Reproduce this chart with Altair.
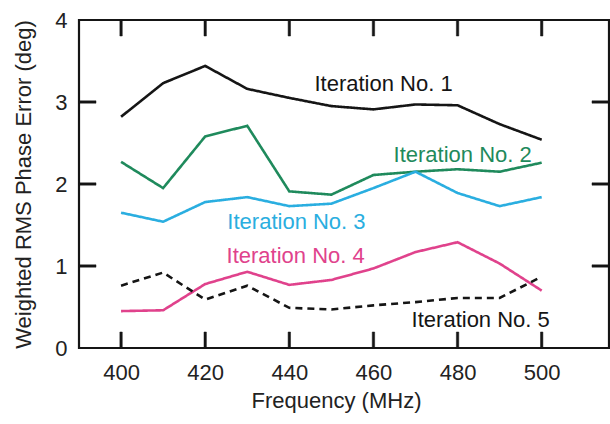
import altair as alt
import pandas as pd

freq = [400, 410, 420, 430, 440, 450, 460, 470, 480, 490, 500]
iter1 = [2.82, 3.23, 3.44, 3.16, 3.05, 2.95, 2.91, 2.97, 2.96, 2.73, 2.54]
iter2 = [2.27, 1.95, 2.58, 2.71, 1.91, 1.87, 2.11, 2.15, 2.18, 2.15, 2.26]
iter3 = [1.65, 1.54, 1.78, 1.84, 1.73, 1.76, 1.95, 2.15, 1.89, 1.73, 1.84]
iter4 = [0.45, 0.46, 0.78, 0.93, 0.77, 0.83, 0.97, 1.17, 1.29, 1.03, 0.70]
iter5 = [0.76, 0.92, 0.59, 0.76, 0.49, 0.47, 0.52, 0.56, 0.61, 0.61, 0.87]

series_names = ["Iteration No. 1", "Iteration No. 2", "Iteration No. 3",
                "Iteration No. 4", "Iteration No. 5"]
series_colors = ["#151515", "#1f8a5c", "#2aaee0", "#e0428c", "#151515"]

label_x = [462.4, 481.2, 441.7, 441.5, 485.5]
label_y = [3.22, 2.35, 1.54, 1.12, 0.34]

x_ticks = [400, 420, 440, 460, 480, 500]
y_ticks = [0, 1, 2, 3, 4]
x_domain = [390, 516]
y_domain = [0, 4]

FONT = "Liberation Sans"
INK = "#151515"
W, H = 530, 328
XT, YT = 16, 17   # inward tick lengths (px)
TW = 2.4          # tick thickness (px)

rows = []
for name, vals in zip(series_names, [iter1, iter2, iter3, iter4, iter5]):
    for f, v in zip(freq, vals):
        rows.append({"series": name, "freq": f, "err": v})
df = pd.DataFrame(rows)

labels = pd.DataFrame({"series": series_names, "freq": label_x, "err": label_y})

xs = alt.Scale(domain=x_domain, nice=False, zero=False)
ys = alt.Scale(domain=y_domain, nice=False)
cs = alt.Scale(domain=series_names, range=series_colors)

common = dict(domain=False, grid=False, ticks=False,
              labelFont=FONT, titleFont=FONT, labelFontSize=22, titleFontSize=22,
              labelColor="#222", titleColor="#222", titleFontWeight="normal")

# inward frame ticks as thin filled rectangles (pixel sizes -> data units)
ux = (x_domain[1] - x_domain[0]) / W
uy = (y_domain[1] - y_domain[0]) / H
tick_rows = []
for v in y_ticks[1:-1]:
    tick_rows.append({"x": x_domain[0], "x2": x_domain[0] + YT * ux,
                      "y": v - TW / 2 * uy, "y2": v + TW / 2 * uy})
    tick_rows.append({"x": x_domain[1] - YT * ux, "x2": x_domain[1],
                      "y": v - TW / 2 * uy, "y2": v + TW / 2 * uy})
for v in x_ticks:
    tick_rows.append({"x": v - TW / 2 * ux, "x2": v + TW / 2 * ux,
                      "y": y_domain[0], "y2": y_domain[0] + XT * uy})
    tick_rows.append({"x": v - TW / 2 * ux, "x2": v + TW / 2 * ux,
                      "y": y_domain[1] - XT * uy, "y2": y_domain[1]})
tick_df = pd.DataFrame(tick_rows)

lines = alt.Chart(df).mark_line(strokeWidth=2.6, clip=True).encode(
    x=alt.X("freq:Q", scale=xs, title="Frequency (MHz)",
            axis=alt.Axis(values=x_ticks, format="d",
                          labelPadding=14, titlePadding=7, titleX=257, **common)),
    y=alt.Y("err:Q", scale=ys, title="Weighted RMS Phase Error (deg)",
            axis=alt.Axis(values=y_ticks, format="d",
                          labelPadding=12, titlePadding=19, **common)),
    color=alt.Color("series:N", scale=cs, legend=None),
    strokeDash=alt.StrokeDash("series:N", legend=None,
                              scale=alt.Scale(domain=series_names,
                                              range=[[1, 0], [1, 0], [1, 0], [1, 0], [7, 5]])),
    detail="series:N",
)

texts = alt.Chart(labels).mark_text(fontSize=22, font=FONT, align="center",
                                    baseline="middle").encode(
    x=alt.X("freq:Q", scale=xs),
    y=alt.Y("err:Q", scale=ys),
    color=alt.Color("series:N", scale=cs, legend=None),
    text="series:N",
)

ticks = alt.Chart(tick_df).mark_rect(fill=INK, stroke=None if False else INK,
                                     strokeWidth=0.5, opacity=1).encode(
    x=alt.X("x:Q", scale=xs), x2="x2:Q",
    y=alt.Y("y:Q", scale=ys), y2="y2:Q",
)

chart = alt.layer(lines, texts, ticks).properties(
    width=W, height=H,
    autosize=alt.AutoSizeParams(type="none"),
    padding={"left": 79, "top": 20, "right": 1, "bottom": 76},
    background="white",
).configure_view(stroke=INK, strokeWidth=2.2)

chart.save("out.html", embed_options={"renderer": "svg", "actions": False})
